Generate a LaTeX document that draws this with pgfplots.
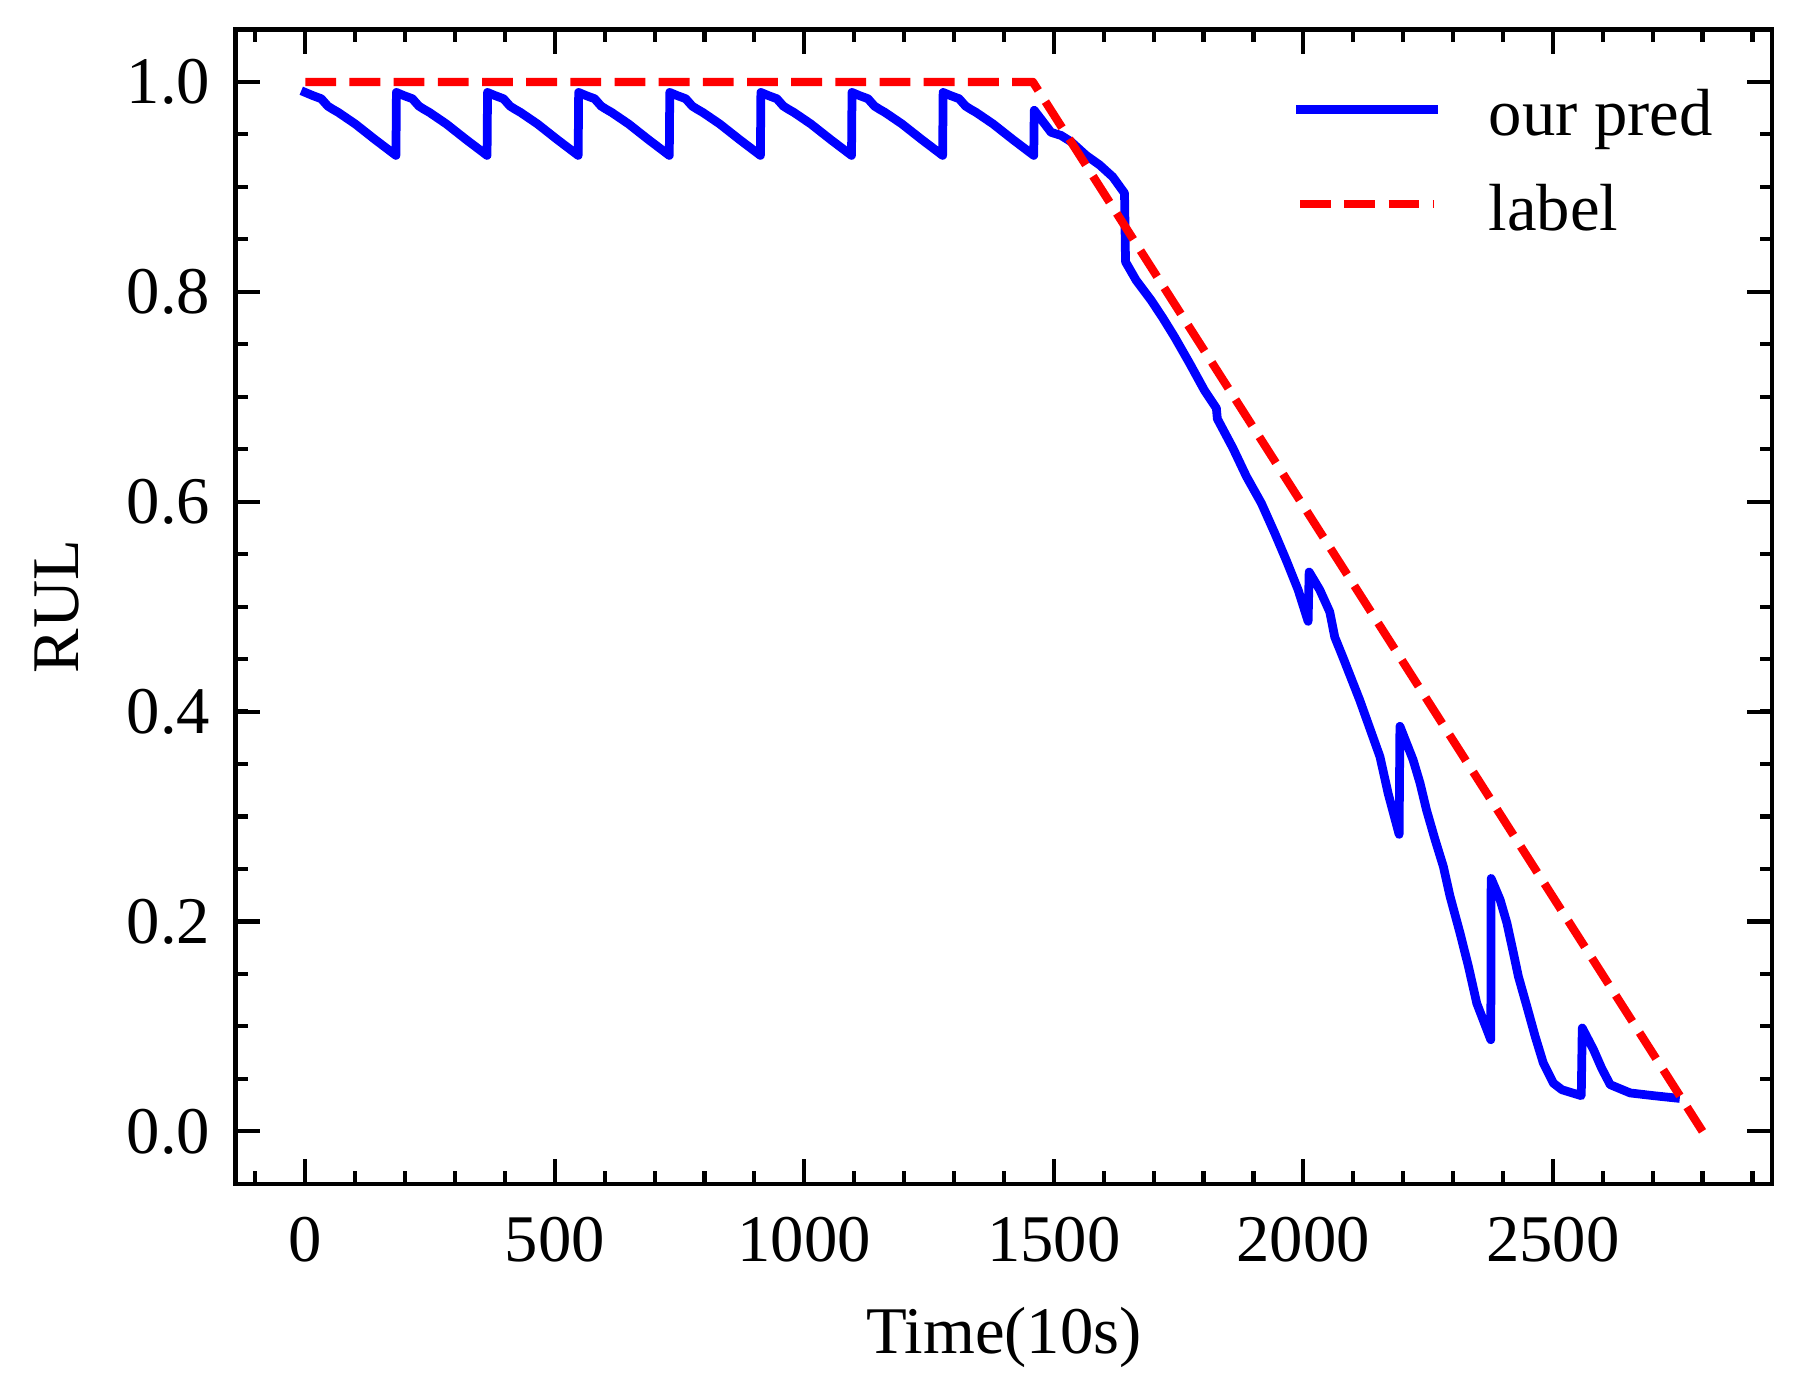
\documentclass[border=0pt]{standalone}
\usepackage{pgfplots}
\pgfplotsset{compat=1.18}
\usepackage{fontspec}
\setmainfont{Liberation Serif}
\newcommand{\ef}{\fontsize{8}{9.6}\selectfont}
\begin{document}
\begin{tikzpicture}
\begin{axis}[
  name=ax,
  at={(0,0)}, anchor=south west,
  scale only axis,
  width=184.4pt, height=138.5pt,
  xmin=-140, xmax=2940, ymin=-0.05, ymax=1.05,
  axis line style={line width=0.5pt},
  every tick/.style={black, line width=0.5pt},
  major tick length=3pt, minor tick length=1.5pt,
  tick align=inside,
  xtick={0,500,1000,1500,2000,2500},
  minor xtick={-100,0,...,2900},
  ytick={0,0.2,0.4,0.6,0.8,1.0},
  minor ytick={-0.05,0,0.05,...,1.05},
  /pgf/number format/assume math mode=true,
  tick label style={font=\ef, inner sep=0pt},
  xticklabel style={anchor=base, yshift=-9.36pt, /pgf/number format/1000 sep={}},
  yticklabel style={anchor=east, xshift=-2.85pt, /pgf/number format/.cd, fixed, fixed zerofill, precision=1},
  xlabel={Time(10s)},
  ylabel={RUL},
  xlabel style={font=\ef, inner sep=0pt, at={([yshift=-20.3pt]axis description cs:0.5,0)}, anchor=base},
  ylabel style={font=\ef, inner sep=0pt, at={([xshift=-18.6pt]axis description cs:0,0.5)}, anchor=south},
  legend style={
    at={([xshift=-7.14pt,yshift=-6.66pt]axis description cs:1,1)}, anchor=north east,
    draw=none, fill=none, inner sep=0pt, outer sep=0pt,
    row sep=3.4pt,
    nodes={inner sep=0pt, text height=6pt, text depth=2pt, font=\ef},
    /tikz/every odd column/.append style={column sep=6.1pt},
  },
  legend cell align=left,
  legend image code/.code={\draw[#1] (0pt,1.1pt) -- (16pt,1.1pt);},
]
\addplot[color=blue, line width=1.05pt, line join=round, line cap=rect] coordinates {
(0,0.990) (15,0.987) (32,0.984) (45,0.977) (55,0.974) (66,0.971) (100,0.960) (140,0.945) (181.6,0.930)
(182.6,0.990) (197.6,0.987) (214.6,0.984) (227.6,0.977) (237.6,0.974) (248.6,0.971) (282.6,0.960) (322.6,0.945) (364.2,0.930)
(365.2,0.990) (380.2,0.987) (397.2,0.984) (410.2,0.977) (420.2,0.974) (431.2,0.971) (465.2,0.960) (505.2,0.945) (546.8,0.930)
(547.8,0.990) (562.8,0.987) (579.8,0.984) (592.8,0.977) (602.8,0.974) (613.8,0.971) (647.8,0.960) (687.8,0.945) (729.4,0.930)
(730.4,0.990) (745.4,0.987) (762.4,0.984) (775.4,0.977) (785.4,0.974) (796.4,0.971) (830.4,0.960) (870.4,0.945) (912.0,0.930)
(913.0,0.990) (928.0,0.987) (945.0,0.984) (958.0,0.977) (968.0,0.974) (979.0,0.971) (1013.0,0.960) (1053.0,0.945) (1094.6,0.930)
(1095.6,0.990) (1110.6,0.987) (1127.6,0.984) (1140.6,0.977) (1150.6,0.974) (1161.6,0.971) (1195.6,0.960) (1235.6,0.945) (1277.2,0.930)
(1278.2,0.990) (1293.2,0.987) (1310.2,0.984) (1323.2,0.977) (1333.2,0.974) (1344.2,0.971) (1378.2,0.960) (1418.2,0.945) (1459.8,0.930)
(1460.8,0.973) (1494.5,0.952) (1514.6,0.949) (1534.7,0.943) (1564.8,0.930) (1591.5,0.921) (1618.2,0.9095) (1641.7,0.894)
(1643.7,0.8286) (1665,0.811) (1695,0.792) (1718.6,0.775) (1742,0.757) (1772,0.732) (1802,0.706) (1825.8,0.689) (1827.7,0.679)
(1859,0.651) (1886,0.624) (1916,0.5985) (1942.8,0.570) (1966,0.544) (1989.6,0.516) (2009.6,0.486)
(2011.7,0.533) (2033,0.516) (2053,0.495) (2063,0.471) (2080,0.451) (2113,0.411) (2153.6,0.357) (2170,0.322) (2192,0.283)
(2193.6,0.386) (2220,0.354) (2233.8,0.332) (2247,0.306) (2264,0.278) (2280.6,0.2524) (2294,0.224) (2314,0.189) (2331,0.157) (2347.6,0.122) (2375.7,0.0873)
(2376.4,0.241) (2394.4,0.2207) (2408,0.1985) (2421,0.170) (2431,0.1476) (2448,0.119) (2464.6,0.0905) (2481,0.065) (2501,0.046) (2518,0.0397) (2557,0.034)
(2559,0.0985) (2581.6,0.0778) (2598,0.060) (2615,0.0445) (2655,0.0366) (2702,0.034) (2745.7,0.0318)
};
\addlegendentry{our pred}
\addplot[color=red, line width=1pt, line join=round, dash pattern=on 3.7pt off 1.6pt] coordinates {
(0,1) (1458,1) (2800,0)
};
\addlegendentry{label}
\end{axis}
\pgfresetboundingbox
\path[use as bounding box] ([shift={(-28.25pt,-25.84pt)}]ax.south west) rectangle ([shift={(3.43pt,3.54pt)}]ax.north east);
\end{tikzpicture}
\end{document}
